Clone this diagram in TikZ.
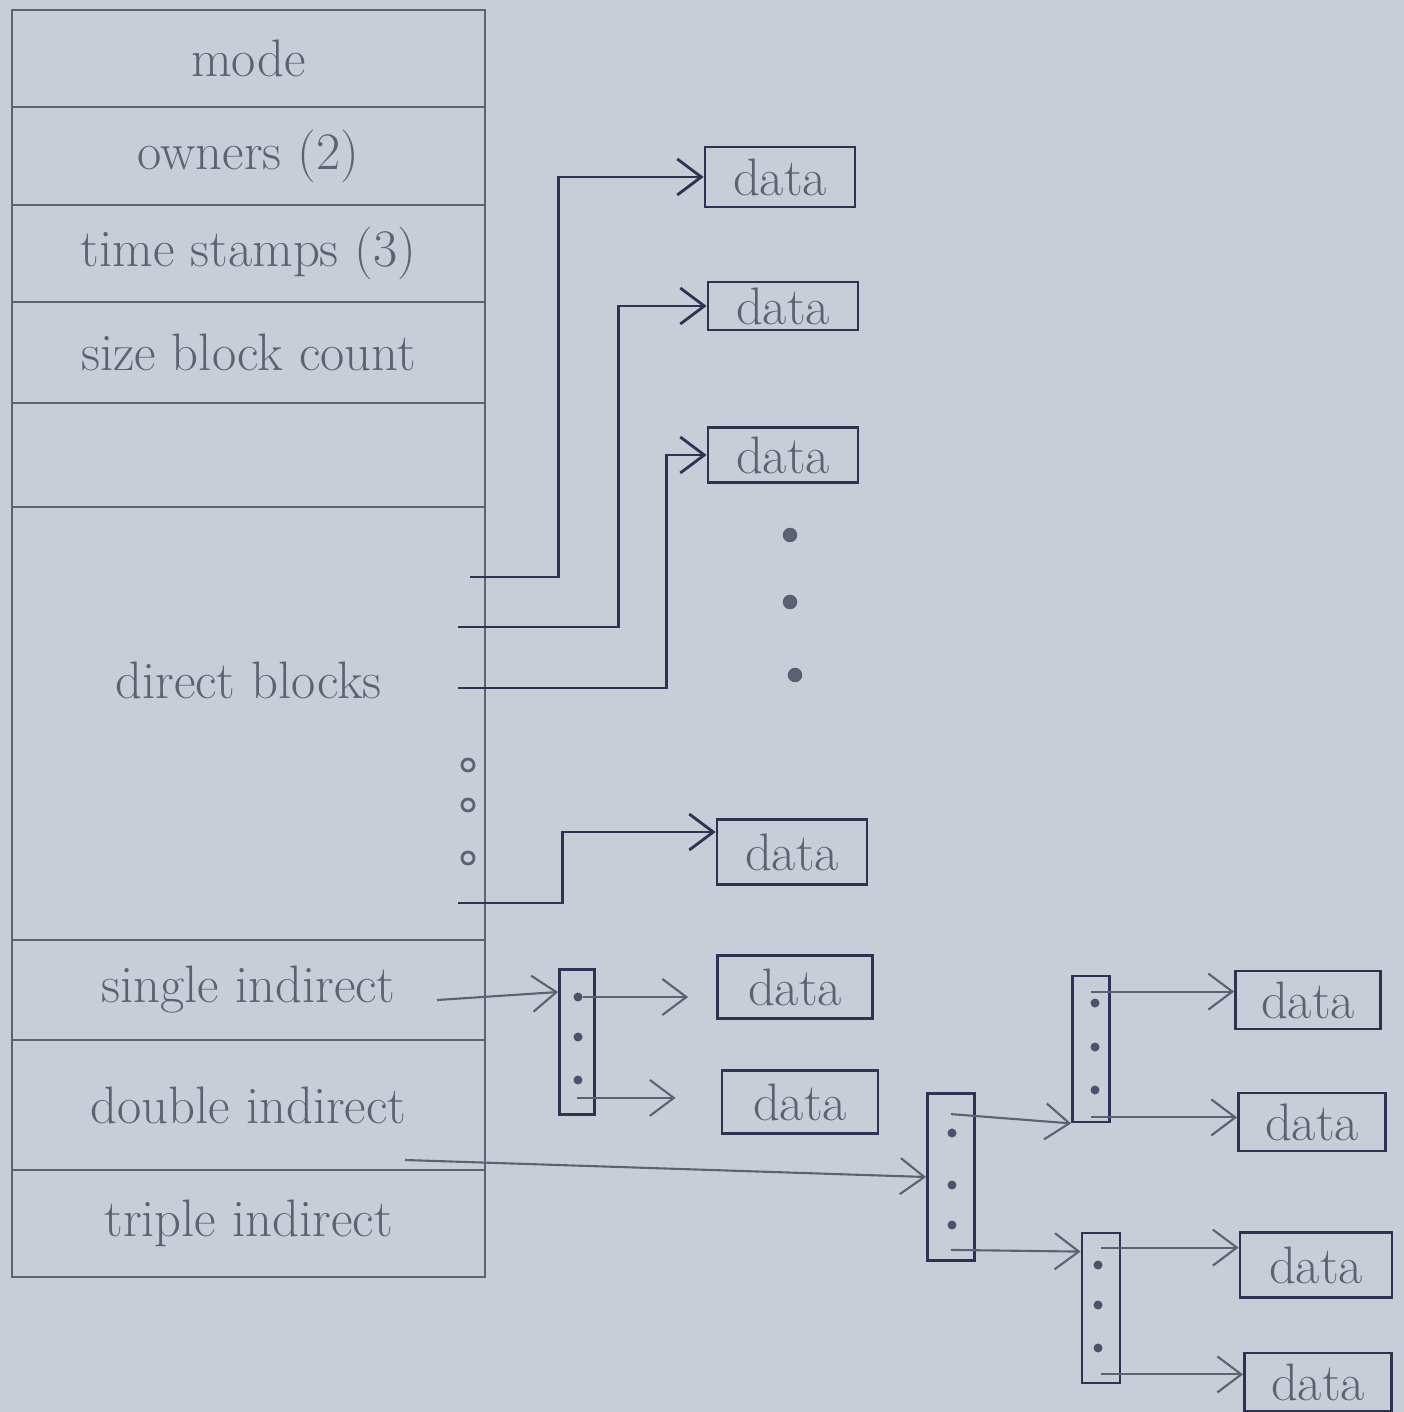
\documentclass[tikz,border=0pt]{standalone}
\usepackage{xcolor}
\definecolor{paper}{HTML}{C9CDD7}
\definecolor{pencil}{HTML}{5E6172}
\definecolor{ink}{HTML}{2F3252}
\usepackage{tikz}
\usetikzlibrary{positioning,arrows.meta,calc}

\begin{document}
\begin{tikzpicture}[
  font=\fontsize{15}{18}\selectfont,
  slot/.style={draw=pencil, semithick, minimum width=4.73cm, inner sep=0pt, outer sep=0pt, text=pencil, anchor=north},
  slotlab/.style={text=pencil, inner sep=1pt},
  blk/.style={draw=ink, thick, minimum width=1.5cm, minimum height=0.6cm, inner sep=0pt, text=pencil},
  ptrblk/.style={draw=ink, thick, minimum width=0.36cm, minimum height=1.46cm, inner sep=0pt},
  ptr/.style={circle, fill=ink!85, inner sep=0pt, minimum size=0.09cm},
  hole/.style={circle, draw=pencil, thick, inner sep=0pt, minimum size=0.12cm},
  more/.style={circle, draw=ink!80, fill=pencil, inner sep=0pt, minimum size=0.13cm},
  arr/.style={draw=ink, thick, -{Straight Barb[length=2.4mm,width=3.6mm]}},
  parr/.style={draw=pencil, semithick, -{Straight Barb[length=2.4mm,width=3.6mm]}},
]
  \fill[paper] (0,0) rectangle (14.04,-14.12);
  \useasboundingbox (0,0) rectangle (14.04,-14.12);

  % inode table
  \node[slot, minimum height=0.97cm] (mode) at (2.485,-0.10) {mode};
  \node[slot, minimum height=0.98cm, below=0pt of mode] (owners) {owners (2)};
  \node[slot, minimum height=0.97cm, below=0pt of owners] (stamps) {time stamps (3)};
  \node[slot, minimum height=1.01cm, below=0pt of stamps] (size) {size block count};
  \node[slot, minimum height=1.04cm, below=0pt of size] (spare) {};
  \node[slot, minimum height=4.33cm, below=0pt of spare] (direct) {};
  \node[slot, minimum height=1.00cm, below=0pt of direct] (single) {single indirect};
  \node[slot, minimum height=1.30cm, below=0pt of single] (double) {double indirect};
  \node[slot, minimum height=1.07cm, below=0pt of double] (triple) {triple indirect};
  \node[slotlab] (directlab) at ([yshift=0.43cm]direct.center) {direct blocks};
  \node[hole] (h1) at (4.68,-7.65) {};
  \node[hole] (h2) at (4.68,-8.05) {};
  \node[hole] (h3) at (4.68,-8.58) {};

  % pointer ends in the table
  \coordinate (p1) at (4.70,-5.77);
  \coordinate (p2) at (4.58,-6.27);
  \coordinate (p3) at (4.58,-6.88);
  \coordinate (p4) at (4.58,-9.03);
  \coordinate (si) at (4.37,-10.00);
  \coordinate (di) at (4.05,-11.60);

  % direct data blocks
  \node[blk] (D1) at (7.80,-1.77) {data};
  \node[blk, minimum height=0.48cm] (D2) at (7.83,-3.06) {data};
  \node[blk, minimum height=0.55cm] (D3) at (7.83,-4.55) {data};
  \node[more] (m1) at (7.90,-5.35) {};
  \node[more] (m2) at (7.90,-6.02) {};
  \node[more] (m3) at (7.95,-6.75) {};
  \node[blk, minimum height=0.65cm] (D4) at (7.92,-8.52) {data};

  % single indirect
  \node[ptrblk, minimum width=0.35cm, minimum height=1.45cm] (S) at (5.77,-10.42) {};
  \node[ptr] (s1) at (5.78,-9.97) {};
  \node[ptr] (s2) at (5.78,-10.37) {};
  \node[ptr] (s3) at (5.78,-10.80) {};
  \node[blk, minimum width=1.55cm, minimum height=0.63cm] (SD1) at (7.95,-9.87) {data};
  \node[blk, minimum width=1.56cm, minimum height=0.63cm] (SD2) at (8.00,-11.02) {data};

  % double indirect
  \node[ptrblk, minimum width=0.47cm, minimum height=1.67cm] (DI) at (9.51,-11.77) {};
  \node[ptr] (d1) at (9.52,-11.33) {};
  \node[ptr] (d2) at (9.52,-11.85) {};
  \node[ptr] (d3) at (9.52,-12.25) {};
  \node[ptrblk, minimum width=0.37cm, minimum height=1.46cm] (T1) at (10.91,-10.49) {};
  \node[ptr] (t1) at (10.95,-10.03) {};
  \node[ptr] (t2) at (10.95,-10.47) {};
  \node[ptr] (t3) at (10.95,-10.90) {};
  \node[ptrblk, minimum width=0.38cm, minimum height=1.50cm] (T2) at (11.01,-13.08) {};
  \node[ptr] (t4) at (10.98,-12.65) {};
  \node[ptr] (t5) at (10.98,-13.05) {};
  \node[ptr] (t6) at (10.98,-13.48) {};
  \node[blk, minimum width=1.45cm, minimum height=0.58cm] (TD1) at (13.08,-10.00) {data};
  \node[blk, minimum width=1.47cm, minimum height=0.58cm] (TD2) at (13.12,-11.22) {data};
  \node[blk, minimum width=1.52cm, minimum height=0.65cm] (TD3) at (13.16,-12.65) {data};
  \node[blk, minimum width=1.47cm, minimum height=0.58cm] (TD4) at (13.18,-13.82) {data};

  \draw[arr] (p1) -| ([xshift=-1.45cm]D1.west) |- (D1.west);
  \draw[arr] (p2) -| ([xshift=-0.88cm]D2.west) |- (D2.west);
  \draw[arr] (p3) -| ([xshift=-0.40cm]D3.west) |- (D3.west);
  \draw[arr] (p4) -| ([xshift=-1.53cm,yshift=0.2cm]D4.west) |- ([yshift=0.2cm]D4.west);
  \draw[parr] (si) -- ([yshift=5mm]S.west);
  \draw[parr, shorten >=2.8mm] (s1) -- (s1 -| SD1.west);
  \draw[parr, shorten >=4.5mm] ([yshift=1.8mm]S.south) -- ([yshift=1.8mm]S.south -| SD2.west);
  \draw[parr] (di) -- (DI.west);
  \draw[parr] ([yshift=-2.2mm]DI.north) -- (T1.south west);
  \draw[parr] ([yshift=1.2mm]DI.south) -- ([yshift=-2mm]T2.north west);
  \draw[parr] ([yshift=-1.7mm]T1.north) -- ([yshift=-1.7mm]T1.north -| TD1.west);
  \draw[parr] ([yshift=0.6mm]T1.south) -- ([yshift=0.6mm]T1.south -| TD2.west);
  \draw[parr] ([yshift=-1.6mm]T2.north) -- ([yshift=-1.6mm]T2.north -| TD3.west);
  \draw[parr] ([yshift=1mm]T2.south) -- ([yshift=1mm]T2.south -| TD4.west);
\end{tikzpicture}
\end{document}
